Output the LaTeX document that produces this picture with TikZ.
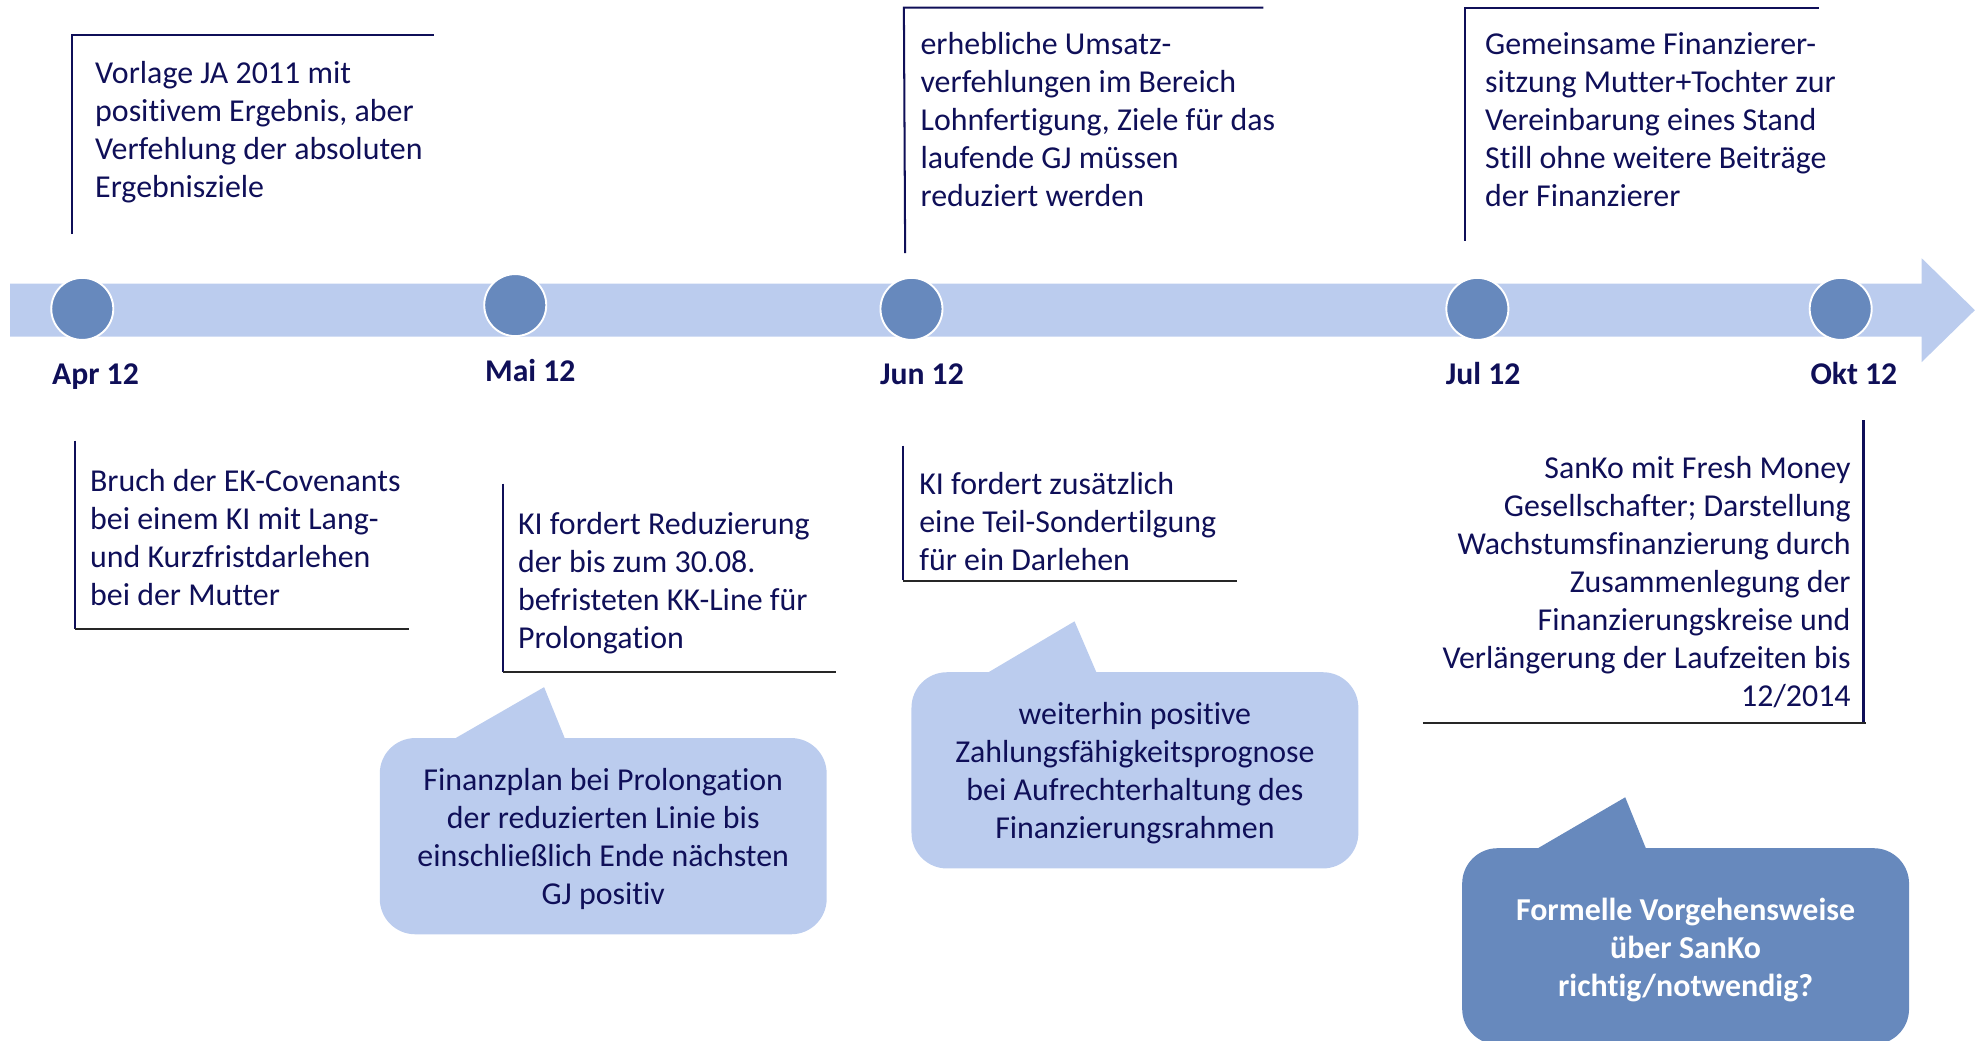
\documentclass[tikz,border=0pt]{standalone}
\usepackage{fontspec}
\setmainfont{Carlito}[Ligatures=NoCommon]
\usetikzlibrary{calc}
\definecolor{navy}{RGB}{15,15,88}
\definecolor{barblue}{RGB}{187,204,238}
\definecolor{dotblue}{RGB}{103,137,189}
\newcommand{\txtlines}[2]{\begin{tabular}[t]{@{}#1@{}}#2\end{tabular}}
\tikzset{
  txt/.style={text=navy, font=\fontsize{25.2}{30}\selectfont, inner sep=0pt},
  lbl/.style={text=navy, font=\bfseries\fontsize{25}{30}\selectfont, inner sep=0pt, anchor=base west},
  dot/.style={circle, fill=dotblue, draw=white, line width=1.5pt, minimum size=49pt, inner sep=0pt},
  brk/.style={draw=navy, line width=1.6pt},
  bot/.style={draw=black!85, line width=2pt},
  callout/.style={fill=barblue, rounded corners=28pt, minimum width=353pt, minimum height=155pt, inner sep=0pt},
  callout dark/.style={callout, fill=dotblue},
  ctxt/.style={txt, anchor=center},
  ctxt dark/.style={txt, anchor=center, text=white, font=\bfseries\fontsize{25.2}{30}\selectfont},
}
\begin{document}
\begin{tikzpicture}[x=1pt,y=-1pt]
\useasboundingbox (0,0) rectangle (1568,822.3);
% timeline arrow
\fill[barblue] (8,224) -- (1518,224) -- (1518,204) -- (1560,245) -- (1518,286) -- (1518,266) -- (8,266) -- cycle;
% dots
\node[dot] (d1) at (65,244) {};
\node[dot] (d2) at (407,241) {};
\node[dot] (d3) at (720,244) {};
\node[dot] (d4) at (1167,244) {};
\node[dot] (d5) at (1454,244) {};
% labels
\node[lbl] (l1) at (41,304) {Apr 12};
\node[lbl] (l2) at (383,301) {Mai 12};
\node[lbl] (l3) at (695,304) {Jun 12};
\node[lbl] (l4) at (1142,304) {Jul 12};
\node[lbl] (l5) at (1430,304) {Okt 12};
% top brackets
\draw[brk] (57,185) -- (57,28) -- (343,28);
\node[txt, anchor=base west] (t1) at (75,66) {\txtlines{l}{Vorlage JA 2011 mit\\positivem Ergebnis, aber\\Verfehlung der absoluten\\Ergebnisziele}};
\draw[brk] (715,200) -- (714,6) -- (998,6);
\node[txt, anchor=base west] (t3) at (727,43) {\txtlines{l}{erhebliche Umsatz-\\verfehlungen im Bereich\\Lohnfertigung, Ziele für das\\laufende GJ müssen\\reduziert werden}};
\draw[brk] (1157,190) -- (1157,6) -- (1437,6);
\node[txt, anchor=base west] (t4) at (1173,43) {\txtlines{l}{Gemeinsame Finanzierer-\\sitzung Mutter+Tochter zur\\Vereinbarung eines Stand\\Still ohne weitere Beiträge\\der Finanzierer}};
% bottom brackets
\draw[brk] (59,348) -- (59,497);
\draw[bot] (59,497) -- (323,497);
\node[txt, anchor=base west] (b1) at (71,388) {\txtlines{l}{Bruch der EK-Covenants\\bei einem KI mit Lang-\\und Kurzfristdarlehen\\bei der Mutter}};
\draw[brk] (397,382) -- (397,531);
\draw[bot] (397,531) -- (660,531);
\node[txt, anchor=base west] (b2) at (409,422) {\txtlines{l}{KI fordert Reduzierung\\der bis zum 30.08.\\befristeten KK-Line für\\Prolongation}};
\draw[brk] (713,352) -- (713,458);
\draw[bot] (713,459) -- (977,459);
\node[txt, anchor=base west] (b3) at (726,391) {\txtlines{l}{KI fordert zusätzlich\\eine Teil-Sondertilgung\\für ein Darlehen}};
\draw[brk] (1472,332) -- (1472,571);
\draw[bot] (1124,571) -- (1474,571);
\node[txt, anchor=base east] (b5) at (1462,378) {\txtlines{r}{SanKo mit Fresh Money\\Gesellschafter; Darstellung\\Wachstumsfinanzierung durch\\Zusammenlegung der\\Finanzierungskreise und\\Verlängerung der Laufzeiten bis\\12/2014}};
% callouts
\node[callout] (c2) at (476.5,660.5) {};
\fill[barblue] ($(c2.north west)+(57,2)$) -- ($(c2.north west)+(130,-40)$) -- ($(c2.north west)+(147,2)$) -- cycle;
\node[ctxt] (c2t) at ($(c2.center)+(0,3)$) {\txtlines{c}{Finanzplan bei Prolongation\\der reduzierten Linie bis\\einschließlich Ende nächsten\\GJ positiv}};
\node[callout] (c3) at (896.5,608.5) {};
\fill[barblue] ($(c3.north west)+(58,2)$) -- ($(c3.north west)+(129,-40)$) -- ($(c3.north west)+(147,2)$) -- cycle;
\node[ctxt] (c3t) at ($(c3.center)+(0,3)$) {\txtlines{c}{weiterhin positive\\Zahlungsfähigkeitsprognose\\bei Aufrechterhaltung des\\Finanzierungsrahmen}};
\node[callout dark] (c5) at (1331.5,747.5) {};
\fill[dotblue] ($(c5.north west)+(57,2)$) -- ($(c5.north west)+(129,-40)$) -- ($(c5.north west)+(146,2)$) -- cycle;
\node[ctxt dark] (c5t) at ($(c5.center)+(0,4)$) {\txtlines{c}{Formelle Vorgehensweise\\über SanKo\\richtig/notwendig?}};
\end{tikzpicture}
\end{document}
